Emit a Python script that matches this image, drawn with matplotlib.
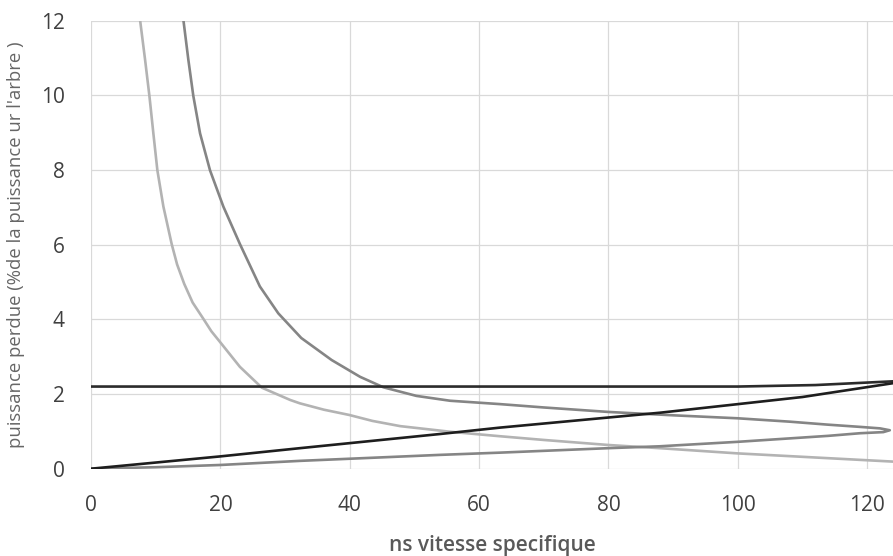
import matplotlib
matplotlib.use("Agg")
import matplotlib.pyplot as plt

# --- data ---
light_x = [7.57, 8.35, 9.02, 9.63, 10.25, 11.18, 12.47, 13.3, 14.4, 15.7, 17.3, 18.6, 20.0, 23.0, 26.4,
           30.8, 32.3, 36.0, 39.9, 43.5, 47.8, 55.5, 63.2, 70.0, 80.0, 87.9, 100.0, 112.0, 124.0]
light_y = [12.02, 10.95, 9.98, 8.98, 7.99, 7.02, 6.01, 5.47, 4.95, 4.45, 4.03, 3.68, 3.38, 2.73, 2.17,
           1.84, 1.75, 1.58, 1.44, 1.28, 1.14, 0.99, 0.87, 0.77, 0.635, 0.55, 0.41, 0.30, 0.19]

dark_x = [14.27, 15.04, 15.81, 16.85, 18.39, 20.45, 23.03, 26.1, 28.95, 32.5, 37.2, 41.6, 45.2,
          50.3, 55.5, 63.2, 70.0, 80.0, 90.0, 100.0, 108.0, 113.9, 118.9, 122.0, 123.5,
          122.5, 118.9, 114.0, 100.0, 87.9, 80.0, 63.2, 53.9, 32.3, 20.0, 10.0, 0.0]
dark_y = [12.02, 10.95, 9.98, 8.98, 7.99, 7.02, 6.01, 4.88, 4.16, 3.5, 2.91, 2.46, 2.18,
          1.95, 1.82, 1.73, 1.64, 1.52, 1.43, 1.35, 1.26, 1.18, 1.12, 1.08, 1.03,
          0.98, 0.95, 0.88, 0.72, 0.60, 0.55, 0.43, 0.37, 0.21, 0.10, 0.04, 0.0]

flat_x = [0.0, 100.0, 112.0, 124.0, 130.0]
flat_y = [2.2, 2.2, 2.24, 2.34, 2.38]

diag_x = [0.0, 20.0, 32.3, 54.0, 63.2, 88.0, 110.0, 124.0, 130.0]
diag_y = [0.0, 0.33, 0.55, 0.93, 1.1, 1.5, 1.92, 2.29, 2.38]

xticks = [0, 20, 40, 60, 80, 100, 120]
yticks = [0, 2, 4, 6, 8, 10, 12]

xlabel = "ns vitesse specifique"
ylabel = "puissance perdue (%de la puissance ur l'arbre )"

fig = plt.figure(figsize=(8.93, 5.56), dpi=100)
ax = fig.add_axes([0.102, 0.157, 0.898, 0.806])
ax.set_xlim(0, 124)
ax.set_ylim(0, 12)

ax.plot(light_x, light_y, color="#b3b3b3", lw=1.9, solid_joinstyle="round", zorder=3)
ax.plot(dark_x, dark_y, color="#858585", lw=1.9, solid_joinstyle="round", zorder=3)
ax.plot(flat_x, flat_y, color="#2b2b2b", lw=1.9, solid_joinstyle="round", zorder=4)
ax.plot(diag_x, diag_y, color="#1e1e1e", lw=1.9, solid_joinstyle="round", zorder=4)

ax.set_xticks(xticks)
ax.set_yticks(yticks)
ax.grid(True, color="#d9d9d9", lw=0.9, zorder=0)
ax.set_axisbelow(True)
for s in ax.spines.values():
    s.set_visible(False)
ax.tick_params(axis="both", length=0, labelsize=15, labelcolor="#404040")
ax.tick_params(axis="y", pad=19)
ax.tick_params(axis="x", pad=19)
for lab in ax.get_xticklabels() + ax.get_yticklabels():
    lab.set_family("Open Sans")

fig.text(492 / 893, 1 - 545 / 556, xlabel, ha="center", va="center",
         fontsize=15, color="#595959", family="Open Sans", fontweight="semibold")
fig.text(16 / 893, 1 - 245 / 556, ylabel, ha="center", va="center", rotation=90,
         fontsize=13.3, color="#666666", family="Open Sans")

fig.savefig("out.png", dpi=100)
